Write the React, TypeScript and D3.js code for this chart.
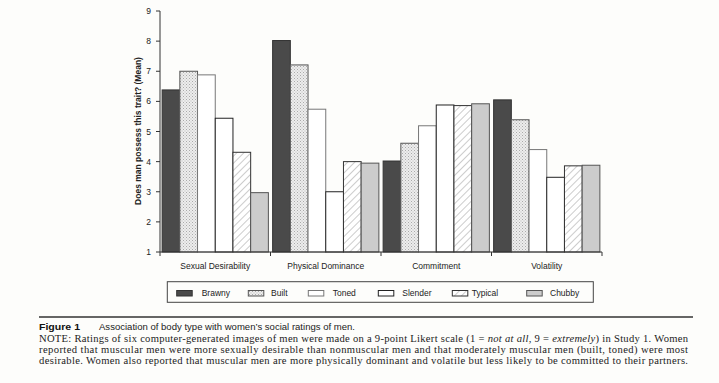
import React from "react";
import * as d3 from "d3";

const categories = ["Sexual Desirability", "Physical Dominance", "Commitment", "Volatility"];
const seriesNames = ["Brawny", "Built", "Toned", "Slender", "Typical", "Chubby"];
const brawny = [6.38, 8.02, 4.02, 6.05];
const built = [7.0, 7.21, 4.61, 5.39];
const toned = [6.88, 5.74, 5.19, 4.4];
const slender = [5.44, 3.0, 5.88, 3.48];
const typical = [4.31, 4.0, 5.86, 3.86];
const chubby = [2.97, 3.95, 5.92, 3.88];
const yTicks = [1, 2, 3, 4, 5, 6, 7, 8, 9];

const seriesValues = [brawny, built, toned, slender, typical, chubby];
const fills = ["#4a4a4a", "url(#dots)", "#ffffff", "#ffffff", "url(#hatch)", "#cccccc"];
const strokes = ["#333", "#555", "#777", "#222", "#333", "#555"];

export default function App() {
  const left = 160, right = 602, top = 11, bottom = 252;
  const x0 = d3.scaleBand().domain(categories).range([left, right]).paddingInner(0).paddingOuter(0);
  const x1 = d3.scaleBand().domain(seriesNames).range([0, x0.bandwidth()]).paddingOuter(0.12).paddingInner(0);
  const y = d3.scaleLinear().domain([1, 9]).range([bottom, top]);
  const sans = "Liberation Sans, Arial, sans-serif";
  const serif = "Liberation Serif, Times New Roman, serif";
  const legendX = [176.7, 248.3, 308.3, 378.3, 452.3, 526.7];
  const legendTextX = [201.7, 271, 332.7, 402.3, 471.7, 550];

  return (
    <svg width={719} height={383} style={{ position: "absolute", left: 0, top: 0, background: "#fdfdfb" }}>
      <defs>
        <pattern id="dots" width="3" height="3" patternUnits="userSpaceOnUse">
          <rect width="3" height="3" fill="#ededed" />
          <rect x="0" y="0" width="1" height="1" fill="#aaa" />
          <rect x="1.5" y="1.5" width="1" height="1" fill="#bbb" />
        </pattern>
        <pattern id="hatch" width="5" height="5" patternUnits="userSpaceOnUse" patternTransform="rotate(45)">
          <rect width="5" height="5" fill="#fff" />
          <line x1="0" y1="0" x2="0" y2="5" stroke="#999" strokeWidth="1" />
        </pattern>
      </defs>
      <rect width={719} height={383} fill="#fdfdfb" />
      {/* bars */}
      {categories.map((c, ci) => (
        <g key={c}>
          {seriesNames.map((s, si) => {
            const v = seriesValues[si][ci];
            const bx = (x0(c) as number) + (x1(s) as number);
            return (
              <rect key={s} x={bx} y={y(v)} width={x1.bandwidth()} height={y(1) - y(v)}
                fill={fills[si]} stroke={strokes[si]} strokeWidth={1} />
            );
          })}
        </g>
      ))}
      {/* y axis */}
      <line x1={left} x2={left} y1={top} y2={bottom} stroke="#333" />
      {yTicks.map((t) => (
        <g key={t}>
          <line x1={left - 4} x2={left} y1={y(t)} y2={y(t)} stroke="#333" />
          <text x={left - 9} y={y(t) + 3} fontSize={8.5} fontFamily={sans} textAnchor="end" fill="#222">{t}</text>
        </g>
      ))}
      {/* x axis */}
      <line x1={left} x2={right} y1={bottom} y2={bottom} stroke="#333" />
      {categories.map((c) => (
        <g key={c}>
          <line x1={x0(c) as number} x2={x0(c) as number} y1={bottom} y2={bottom + 4} stroke="#333" />
          <text x={(x0(c) as number) + x0.bandwidth() / 2} y={269} fontSize={8.5} fontFamily={sans} textAnchor="middle" fill="#222">{c}</text>
        </g>
      ))}
      <line x1={right} x2={right} y1={bottom} y2={bottom + 4} stroke="#333" />
      <text transform={`translate(140.5,131) rotate(-90)`} fontSize={8.5} fontWeight="bold" fontFamily={sans} textAnchor="middle" fill="#222">
        Does man possess this trait? (Mean)
      </text>
      {/* legend */}
      <rect x={167.3} y={281.7} width={426} height={20.6} fill="none" stroke="#444" strokeWidth={1} />
      {seriesNames.map((s, si) => (
        <g key={s}>
          <rect x={legendX[si]} y={290.5} width={15.5} height={5.5} fill={fills[si]} stroke={strokes[si]} strokeWidth={1} />
          <text x={legendTextX[si]} y={296} fontSize={8.5} fontFamily={sans} fill="#222">{s}</text>
        </g>
      ))}
      {/* caption */}
      <line x1={39} x2={693} y1={317} y2={317} stroke="#333" strokeWidth={1.3} />
      <text x={39} y={330} fontSize={9} fontWeight="900" fontFamily={sans} fill="#111" textLength={41} lengthAdjust="spacingAndGlyphs">Figure 1</text>
      <text x={99} y={330} fontSize={9} fontFamily={sans} fill="#222" textLength={256} lengthAdjust="spacingAndGlyphs">Association of body type with women’s social ratings of men.</text>
      <text x={39} y={342} fontSize={10.6} fontFamily={serif} fill="#222" textLength={649} lengthAdjust="spacing">
        NOTE: Ratings of six computer-generated images of men were made on a 9-point Likert scale (1 = <tspan fontStyle="italic">not at all</tspan>, 9 = <tspan fontStyle="italic">extremely</tspan>) in Study 1. Women
      </text>
      <text x={39} y={353} fontSize={10.6} fontFamily={serif} fill="#222" textLength={649} lengthAdjust="spacing">
        reported that muscular men were more sexually desirable than nonmuscular men and that moderately muscular men (built, toned) were most
      </text>
      <text x={39} y={364} fontSize={10.6} fontFamily={serif} fill="#222" textLength={649} lengthAdjust="spacing">
        desirable. Women also reported that muscular men are more physically dominant and volatile but less likely to be committed to their partners.
      </text>
    </svg>
  );
}
